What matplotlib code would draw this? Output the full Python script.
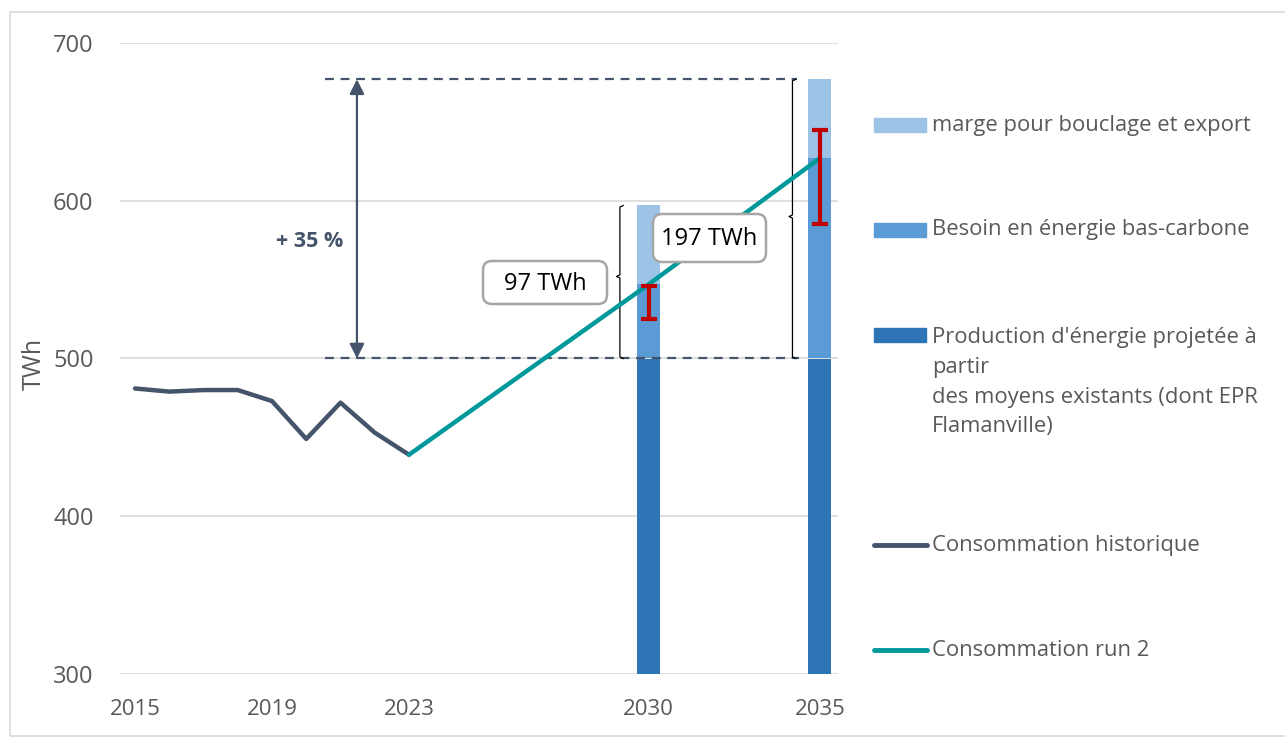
import matplotlib.pyplot as plt
from matplotlib.patches import Rectangle, FancyBboxPatch
from matplotlib.lines import Line2D

plt.rcParams['font.family'] = ['Open Sans', 'DejaVu Sans']

# data
hist_years = [2015, 2016, 2017, 2018, 2019, 2020, 2021, 2022, 2023]
hist_cons = [481, 479, 480, 480, 473, 449, 472, 453, 439]
run2_years = [2023, 2030, 2035]
run2_cons = [439, 547, 627]

bar_years = [2030, 2035]
prod_existing = [500, 500]     # top of dark segment
besoin_top = [547, 627]        # top of mid segment
marge_top = [597, 677]         # top of light segment
err_low = [525, 585]
err_high = [546, 645]

ref_low, ref_high = 500, 677
gap_labels = ['97 TWh', '197 TWh']

xticks = [2015, 2019, 2023, 2030, 2035]
yticks = [300, 400, 500, 600, 700]

c_dark = '#2e75b6'
c_mid = '#5b9bd5'
c_light = '#9dc3e6'
c_hist = '#44546a'
c_run2 = '#00999b'
c_red = '#c00000'
c_text = '#595959'

W, H = 1285, 738
fig = plt.figure(figsize=(W / 100, H / 100), dpi=100)


def fx(px):
    return px / W


def fy(py):
    return 1 - py / H


ax = fig.add_axes([fx(120), fy(674), fx(838) - fx(120), fy(43) - fy(674)])
ax.set_xlim(2014.56, 2035.53)
ax.set_ylim(300, 700)

# bars
bw = 0.68
base = [300, 300]
ax.bar(bar_years, [p - b for p, b in zip(prod_existing, base)], bottom=base,
       width=bw, color=c_dark, zorder=2)
ax.bar(bar_years, [t - p for t, p in zip(besoin_top, prod_existing)],
       bottom=prod_existing, width=bw, color=c_mid, zorder=2)
ax.bar(bar_years, [t - p for t, p in zip(marge_top, besoin_top)],
       bottom=besoin_top, width=bw, color=c_light, zorder=2)

# lines
ax.plot(hist_years, hist_cons, color=c_hist, lw=3.2, zorder=4,
        solid_capstyle='round', solid_joinstyle='round')
ax.plot(run2_years, run2_cons, color=c_run2, lw=3.2, zorder=4,
        solid_capstyle='round')

# red uncertainty bars
for x, lo, hi in zip(bar_years, err_low, err_high):
    ax.errorbar([x], [(lo + hi) / 2], yerr=[[(hi - lo) / 2]], fmt='none',
                ecolor=c_red, elinewidth=3, capsize=6, capthick=3, zorder=5)

# dashed reference lines
ax.plot([2020.55, 2034.33], [ref_high, ref_high], ls=(0, (4, 3)),
        color=c_hist, lw=1.6, zorder=3)
ax.plot([2020.55, 2034.4], [ref_low, ref_low], ls=(0, (4, 3)),
        color=c_hist, lw=1.6, zorder=3)

# double arrow + 35 %
ax.annotate('', xy=(2021.48, ref_high), xytext=(2021.48, ref_low),
            arrowprops=dict(arrowstyle='<|-|>', color=c_hist, lw=1.6,
                            mutation_scale=22, shrinkA=0, shrinkB=0))
ax.text(2020.11, 574, '+ 35 %', ha='center', va='center', fontsize=15.5,
        fontweight='bold', color=c_hist)


# braces
def brace(x, lo, hi, mid):
    d = 0.1
    xs = [x + d, x, x, x - d, x, x, x + d]
    ys = [hi, hi - 1, mid + 1, mid, mid - 1, lo + 1, lo]
    ax.plot(xs, ys, color='black', lw=0.9, zorder=3)


brace(2029.16, ref_low, marge_top[0], 552)
brace(2034.2, ref_low, marge_top[1], 590)


# gap labels in rounded boxes (figure pixel placement)
def label_box(x0, y0, x1, y1, txt):
    fig.add_artist(FancyBboxPatch(
        (fx(x0), fy(y1)), fx(x1) - fx(x0), fy(y0) - fy(y1),
        boxstyle='round,pad=0,rounding_size=%f' % fx(9),
        mutation_aspect=W / H, fc='white', ec='#a6a6a6', lw=1.8,
        transform=fig.transFigure, zorder=6))
    fig.text(fx((x0 + x1) / 2), fy((y0 + y1) / 2 + 1), txt, ha='center',
             va='center', fontsize=17, color='black', zorder=7)


label_box(483, 261, 607, 304, gap_labels[0])
label_box(653, 214, 766, 262, gap_labels[1])

# axes styling
ax.set_xticks(xticks)
ax.set_yticks(yticks)
ax.tick_params(length=0, labelcolor=c_text)
ax.tick_params(axis='y', pad=19, labelsize=17)
ax.tick_params(axis='x', pad=18, labelsize=16)
ax.grid(axis='y', color='#d9d9d9', lw=1.2, zorder=0)
ax.set_axisbelow(True)
for s in ax.spines.values():
    s.set_visible(False)

fig.text(fx(34), fy(364), 'TWh', rotation=90, ha='center', va='center',
         fontsize=18, color=c_text)

# legend drawn by hand
leg_fs = 15.8
leg_patches = [(125, c_light, 'marge pour bouclage et export'),
               (230, c_mid, 'Besoin en énergie bas-carbone'),
               (335, c_dark, "Production d'énergie projetée à\npartir\n"
                             "des moyens existants (dont EPR\nFlamanville)")]
for py, col, lab in leg_patches:
    fig.add_artist(Rectangle((fx(874), fy(py + 7)), fx(926) - fx(874),
                             fy(py - 7) - fy(py + 7), color=col,
                             transform=fig.transFigure))
    if '\n' in lab:
        fig.text(fx(932), fy(py - 8), lab, ha='left', va='top',
                 fontsize=leg_fs, color=c_text, linespacing=1.55)
    else:
        fig.text(fx(932), fy(py), lab, ha='left', va='center',
                 fontsize=leg_fs, color=c_text)

leg_lines = [(545, c_hist, 'Consommation historique'),
             (650, c_run2, 'Consommation run 2')]
for py, col, lab in leg_lines:
    fig.add_artist(Line2D([fx(874), fx(927)], [fy(py), fy(py)], color=col,
                          lw=3.5, solid_capstyle='round',
                          transform=fig.transFigure))
    fig.text(fx(932), fy(py), lab, ha='left', va='center', fontsize=leg_fs,
             color=c_text)

# outer frame
fig.add_artist(Rectangle((fx(10), fy(736)), fx(1290) - fx(10),
                         fy(12) - fy(736), fill=False, ec='#d9d9d9', lw=1.2,
                         transform=fig.transFigure))

fig.savefig('out.png', dpi=100)
